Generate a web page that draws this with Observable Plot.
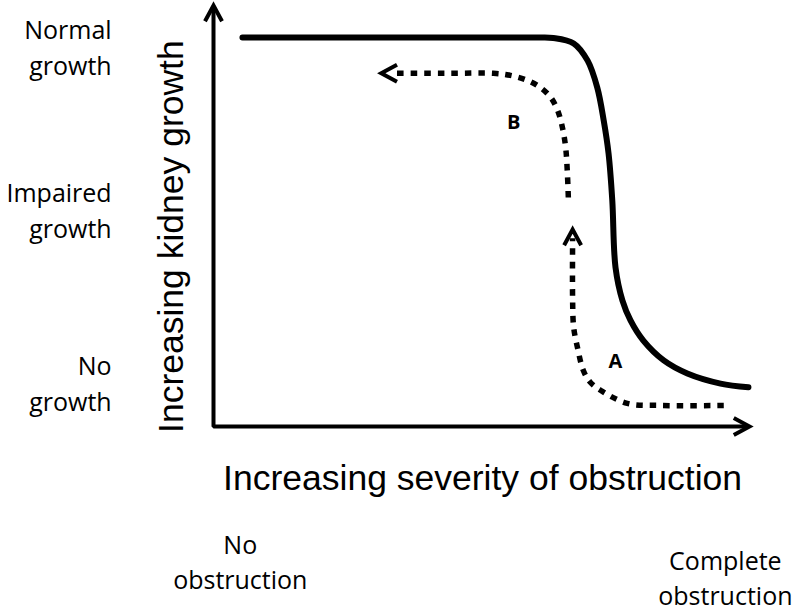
<!DOCTYPE html>
<html>
<head>
<meta charset="utf-8">
<script src="https://cdn.jsdelivr.net/npm/d3@7"></script>
<script src="https://cdn.jsdelivr.net/npm/@observablehq/plot@0.6"></script>
<style>
  html, body { margin: 0; padding: 0; background: #fff; }
  svg { display: block; }
</style>
</head>
<body>
<div id="chart"></div>
<script>
// Conceptual units: x = severity of obstruction (0–100), y = kidney growth (0–100)

// Solid curve: kidney growth vs severity of obstruction
const curveX = [5.4, 35.0, 60.0, 63.4, 67.2, 69.8, 71.6, 72.8, 73.7, 74.4, 75.0, 76.3, 77.8, 80.2, 84.0, 88.4, 94.6, 99.8];
const curveY = [92.4, 92.4, 92.4, 92.3, 91.0, 86.9, 80.5, 72.7, 64.9, 53.7, 37.8, 29.9, 25.2, 20.4, 15.7, 12.6, 10.2, 9.3];

// Dashed path A (relief of severe obstruction → partial recovery)
const pathAX = [95.2, 83.4, 77.2, 72.2, 70.3, 69.0, 67.9, 67.2, 67.0, 67.0];
const pathAY = [5.0, 5.0, 5.5, 8.6, 10.5, 13.3, 18.8, 23.5, 29.9, 44.7];
const headA = {x: 67.0, y: 46.8};

// Dashed path B (relief of milder obstruction → normal growth)
const pathBX = [66.2, 66.0, 65.7, 65.1, 64.2, 62.9, 61.0, 58.6, 55.4, 52.2, 44.2, 33.4];
const pathBY = [54.4, 60.8, 66.3, 71.0, 75.1, 78.2, 80.5, 82.2, 83.4, 83.9, 83.9, 83.9];
const headB = {x: 31.3, y: 83.9};

// Axis category labels
const yLabels = ["Normal\ngrowth", "Impaired\ngrowth", "No\ngrowth"];
const yLabelPos = [83.4, 44.7, 3.8];
const xLabels = ["No\nobstruction", "Complete\nobstruction"];
const xLabelPosX = [5.0, 95.5];
const xLabelPosY = [-38.5, -42.5];

const xTitle = "Increasing severity of obstruction";
const yTitle = "Increasing kidney growth";
const pathNames = ["A", "B"];
const pathNamePos = [{x: 75.0, y: 15.4}, {x: 56.0, y: 72.2}];

// Build tables
const curve = curveX.map((x, i) => ({x, y: curveY[i]}));
const pathA = pathAX.map((x, i) => ({x, y: pathAY[i]}));
const pathB = pathBX.map((x, i) => ({x, y: pathBY[i]}));
const axisL = [{x: 0, y: 99.5}, {x: 0, y: 0}, {x: 99.5, y: 0}];
const heads = [
  {x: 0, y: 100, rot: 0},
  {x: 100, y: 0, rot: 90},
  {x: headA.x, y: headA.y, rot: 0},
  {x: headB.x, y: headB.y, rot: 270}
];
const yLab = yLabels.map((t, i) => ({t, x: -19.0, y: yLabelPos[i]}));
const xLab = xLabels.map((t, i) => ({t, x: xLabelPosX[i], y: xLabelPosY[i]}));
const names = pathNames.map((t, i) => ({t, ...pathNamePos[i]}));

const chevron = {
  draw(context, l, r) {
    context.moveTo(-r, r * 1.85);
    context.lineTo(0, 0);
    context.lineTo(r, r * 1.85);
  }
};

const sans = "Liberation Sans, Arial, Helvetica, sans-serif";
const calib = "Open Sans, Noto Sans, sans-serif";

const chart = Plot.plot({
  width: 800,
  height: 613,
  marginLeft: 213,
  marginRight: 51,
  marginTop: 5,
  marginBottom: 187,
  x: {domain: [0, 100], axis: null},
  y: {domain: [0, 100], axis: null},
  style: {background: "#fff", overflow: "visible", color: "#000"},
  marks: [
    // axes
    Plot.line(axisL, {x: "x", y: "y", stroke: "#000", strokeWidth: 4, strokeLinejoin: "miter", strokeLinecap: "butt"}),
    // solid curve
    Plot.line(curve, {x: "x", y: "y", curve: "catmull-rom", stroke: "#000", strokeWidth: 6}),
    // dashed paths
    Plot.line(pathA, {x: "x", y: "y", curve: "catmull-rom", stroke: "#000", strokeWidth: 5.5, strokeDasharray: "6.5,7", strokeLinecap: "butt"}),
    Plot.line(pathB, {x: "x", y: "y", curve: "catmull-rom", stroke: "#000", strokeWidth: 5.5, strokeDasharray: "6.5,7", strokeLinecap: "butt"}),
    // arrowheads
    Plot.vector(heads, {x: "x", y: "y", rotate: "rot", length: 1, anchor: "start", shape: chevron, r: 8.5, stroke: "#000", strokeWidth: 4, strokeLinejoin: "miter", strokeLinecap: "butt"}),
    // category labels
    Plot.text(yLab, {x: "x", y: "y", text: "t", textAnchor: "end", lineAnchor: "bottom", lineHeight: 1.44, fontSize: 25, fontFamily: calib, fill: "#000"}),
    Plot.text(xLab, {x: "x", y: "y", text: "t", textAnchor: "middle", lineAnchor: "bottom", lineHeight: 1.4, fontSize: 25, fontFamily: calib, fill: "#000"}),
    // axis titles
    Plot.text([xTitle], {x: 50.2, y: -15.2, text: d => d, textAnchor: "middle", lineAnchor: "bottom", fontSize: 35.5, fontFamily: sans, fill: "#000"}),
    Plot.text([yTitle], {x: -5.6, y: 45.1, text: d => d, rotate: -90, textAnchor: "middle", lineAnchor: "bottom", fontSize: 35.5, fontFamily: sans, fill: "#000"}),
    // path names
    Plot.text(names, {x: "x", y: "y", text: "t", textAnchor: "middle", lineAnchor: "middle", fontSize: 20, fontWeight: "bold", fontFamily: calib, fill: "#000"})
  ]
});
document.getElementById("chart").append(chart);
</script>
</body>
</html>
